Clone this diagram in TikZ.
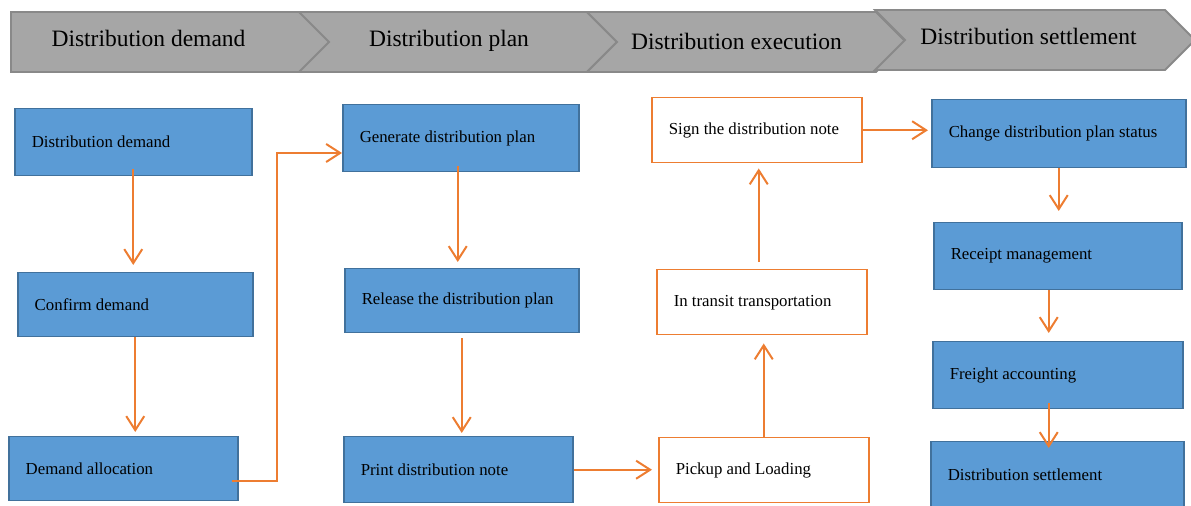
\documentclass[tikz,border=0pt]{standalone}
\usepackage{fontspec}
\setmainfont{Liberation Serif}
\usetikzlibrary{shapes.symbols}
\usetikzlibrary{arrows.meta}

\definecolor{stagegray}{RGB}{166,166,166}
\definecolor{stageline}{RGB}{137,137,137}
\definecolor{taskblue}{RGB}{91,155,213}
\definecolor{taskline}{RGB}{65,113,156}
\definecolor{floworange}{RGB}{237,125,49}

\tikzset{
	stage/.style = {signal, signal to=east, signal pointer angle=90, fill=stagegray, draw=stageline, line width=0.9pt, minimum height=30pt, inner sep=0pt},
	stagetext/.style = {anchor=base, font=\fontsize{11.75pt}{14pt}\selectfont},
	task/.style = {anchor=north west, align=flush left, inner xsep=8.5pt, inner ysep=0pt, line width=0.75pt, font=\fontsize{8.4pt}{10pt}\selectfont},
	bluetask/.style = {task, fill=taskblue, draw=taskline},
	whitetask/.style = {task, fill=white, draw=floworange},
	flow/.style = {draw=floworange, line width=1pt, -{Straight Barb[length=7pt,width=9pt]}},
}

\begin{document}
\begin{tikzpicture}[x=0.5pt, y=-0.5pt]
	
	\useasboundingbox (0,0) rectangle (1191,506);
	
	% stage bar
	\node[stage, signal from=nowhere, minimum width=166.5pt] (h1) at (162.5,42) {};
	\node[stage, signal from=west, minimum width=159pt] (h2) at (458,42) {};
	\node[stage, signal from=west, minimum width=159.5pt] (h3) at (746.5,42) {};
	\node[stage, signal from=west, minimum width=160pt] (h4) at (1035,40) {};
	
	\node[stagetext] (t1) at (148.5,47) {Distribution demand};
	\node[stagetext] (t2) at (449,47) {Distribution plan};
	\node[stagetext] (t3) at (736.5,50) {Distribution execution};
	\node[stagetext] (t4) at (1028.5,45) {Distribution settlement};
	
	% demand column
	\node[bluetask, text width=101.5pt, minimum height=33.5pt] (dd) at (14,108) {Distribution demand};
	\node[bluetask, text width=100.5pt, minimum height=32pt] (cd) at (17,272) {Confirm demand};
	\node[bluetask, text width=97.5pt, minimum height=32pt] (da) at (8,436) {Demand allocation};
	
	% plan column
	\node[bluetask, text width=101pt, minimum height=33.5pt] (gp) at (342,104) {Generate distribution plan};
	\node[bluetask, text width=100pt, minimum height=32pt] (rp) at (344,268) {Release the distribution plan};
	\node[bluetask, text width=97.5pt, minimum height=33pt] (pn) at (343,436) {Print distribution note};
	
	% execution column
	\node[whitetask, text width=88pt, minimum height=32.5pt] (sn) at (651,97) {Sign the distribution note};
	\node[whitetask, text width=88pt, minimum height=32.5pt] (it) at (656,269) {In transit transportation};
	\node[whitetask, text width=88pt, minimum height=32.5pt] (pl) at (658,437) {Pickup and Loading};
	
	% settlement column
	\node[bluetask, text width=110pt, minimum height=34pt] (cs) at (931,99) {Change distribution plan status};
	\node[bluetask, text width=107pt, minimum height=33.5pt] (rm) at (933,222) {Receipt management};
	\node[bluetask, text width=108pt, minimum height=33.5pt] (fa) at (932,341) {Freight accounting};
	\node[bluetask, text width=109.5pt, minimum height=33.5pt] (ds) at (930,441) {Distribution settlement};
	
	% arrows
	\coordinate (bend) at (277,153);
	
	\draw[flow, shorten <=-3.5pt, shorten >=3.5pt] (dd.south) -- (dd.south |- cd.north);
	\draw[flow, shorten >=2pt] (cd.south) -- (cd.south |- da.north);
	\draw[flow] ([xshift=-3.5pt,yshift=-6pt]da.east) -| (bend) -- (gp.west |- bend);
	
	\draw[flow, shorten <=-3pt, shorten >=3pt] ([xshift=-1.5pt]gp.south) -- ([xshift=-1.5pt]gp.south |- rp.north);
	\draw[flow, shorten <=2.5pt, shorten >=1.5pt] (rp.south) -- (rp.south |- pn.north);
	\draw[flow, shorten >=3pt] (pn.east) -- (pn.east -| pl.west);
	
	\draw[flow, shorten >=4pt] (pl.north) -- (pl.north |- it.south);
	\draw[flow, shorten <=3.5pt, shorten >=2.5pt] ([xshift=-1.5pt]it.north) -- ([xshift=-1.5pt]it.north |- sn.south);
	\draw[flow, shorten >=1.5pt] (sn.east) -- (sn.east -| cs.west);
	
	\draw[flow, shorten >=5.5pt] (cs.south) -- (cs.south |- rm.north);
	\draw[flow, shorten >=4pt] ([xshift=-4.5pt]rm.south) -- ([xshift=-4.5pt]rm.south |- fa.north);
	\draw[flow, shorten <=-3pt, shorten >=-3.5pt] ([xshift=-4.5pt]fa.south) -- ([xshift=-4.5pt]fa.south |- ds.north);
	
\end{tikzpicture}
\end{document}
